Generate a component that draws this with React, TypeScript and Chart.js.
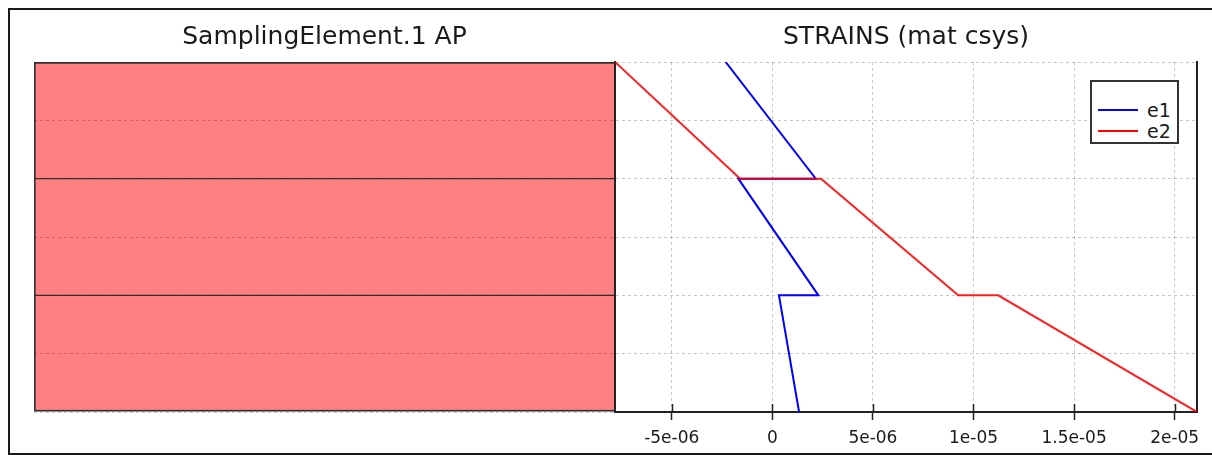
import React, { useEffect, useRef } from 'react';
import { Chart, registerables } from 'chart.js';

Chart.register(...registerables);

// ---- data ----
const depth = [3, 2, 2, 1, 1, 0];
const e1 = [-2.32e-6, 2.16e-6, -1.69e-6, 2.29e-6, 0.33e-6, 1.33e-6];
const e2 = [-7.82e-6, -1.6e-6, 2.42e-6, 9.24e-6, 1.123e-5, 2.111e-5];
const seriesNames = ['e1', 'e2'];
const seriesColors = ['#0000ff', '#ff0000'];
const seriesLineColors = ['rgba(0,0,255,1)', 'rgba(255,0,0,0.88)'];
const tickValues = [-5e-6, 0, 5e-6, 1e-5, 1.5e-5, 2e-5];
const tickLabels = ['-5e-06', '0', '5e-06', '1e-05', '1.5e-05', '2e-05'];
const xMin = -7.82e-6;
const xMax = 2.111e-5;
const layerNames = ['Layer 1', 'Layer 2', 'Layer 3'];
const layerRanges: [number, number][] = [[2, 3], [1, 2], [0, 1]];
const depthMin = 0;
const depthMax = 3;
const depthStep = 0.5;
const leftTitle = 'SamplingElement.1 AP';
const rightTitle = 'STRAINS (mat csys)';

const W = 1212;
const H = 455;
const FONT = 'DejaVu Sans';
const PLOT_TOP = 62;
const PLOT_BOTTOM = 412;
const LEFT_X0 = 34;
const SPLIT_X = 615;
const RIGHT_X1 = 1197;
const GRID = 'rgba(0,0,0,0.22)';
const DASH = [3, 3];
const TEXT = '#1a1a1a';

const TITLE_SIZE = 25;
const PAD_TOP = 10;
const TITLE_LH = TITLE_SIZE * 1.2;
const TITLE_CENTER = 37.5;
const TITLE_PAD_TOP = TITLE_CENTER - PAD_TOP - TITLE_LH / 2;
const TITLE_PAD_BOTTOM = PLOT_TOP - PAD_TOP - TITLE_PAD_TOP - TITLE_LH;

const titleOpts = (text: string) => ({
  display: true,
  text,
  color: TEXT,
  font: { family: FONT, size: TITLE_SIZE, weight: 'normal' as const },
  padding: { top: TITLE_PAD_TOP, bottom: TITLE_PAD_BOTTOM },
});

const innerTicks = {
  id: 'innerTicks',
  afterDraw(chart: any) {
    const xs = chart.scales.x;
    const { ctx, chartArea } = chart;
    ctx.save();
    ctx.strokeStyle = '#222';
    ctx.lineWidth = 1.5;
    xs.ticks.forEach((t: any) => {
      const px = Math.round(xs.getPixelForValue(t.value)) + 0.5;
      ctx.beginPath();
      ctx.moveTo(px, chartArea.bottom - 8);
      ctx.lineTo(px, chartArea.bottom);
      ctx.stroke();
    });
    ctx.restore();
  },
};

export default function App() {
  const leftRef = useRef<HTMLCanvasElement>(null);
  const rightRef = useRef<HTMLCanvasElement>(null);

  useEffect(() => {
    Chart.defaults.font.family = FONT;
    const nLayers = layerRanges.length;
    const left = new Chart(leftRef.current!, {
      type: 'bar',
      data: {
        labels: ['AP'],
        datasets: layerRanges.map((r, i) => ({
          label: layerNames[i],
          data: [r],
          backgroundColor: '#ff8080',
          borderColor: '#333',
          borderWidth: { top: i === 0 ? 2 : 1, bottom: i === nLayers - 1 ? 2 : 1, left: 2, right: 1 },
          borderSkipped: false,
          barPercentage: 1,
          categoryPercentage: 1,
        })) as any,
      },
      options: {
        responsive: false,
        animation: false,
        layout: { padding: { left: LEFT_X0, right: W - SPLIT_X, top: PAD_TOP, bottom: H - PLOT_BOTTOM } },
        plugins: { legend: { display: false }, tooltip: { enabled: false }, title: titleOpts(leftTitle) as any },
        scales: {
          x: { display: false, stacked: true },
          y: {
            type: 'linear',
            min: depthMin,
            max: depthMax,
            stacked: false,
            ticks: { display: false, stepSize: depthStep },
            grid: { color: GRID, drawTicks: false, z: 1 },
            border: { display: false, dash: DASH },
            afterFit: (s: any) => { s.width = 0; },
          },
        },
      } as any,
    });

    const right = new Chart(rightRef.current!, {
      type: 'line',
      data: {
        datasets: [e1, e2].map((vals, i) => ({
          label: seriesNames[i],
          data: vals.map((v, k) => ({ x: v, y: depth[k] })),
          borderColor: seriesLineColors[i],
          backgroundColor: seriesColors[i],
          borderWidth: 2,
          pointRadius: 0,
          tension: 0,
          fill: false,
          order: i === 0 ? 1 : 0,
        })),
      },
      options: {
        responsive: false,
        animation: false,
        layout: { padding: { left: SPLIT_X, right: W - RIGHT_X1, top: PAD_TOP, bottom: 0 } },
        plugins: { legend: { display: false }, tooltip: { enabled: false }, title: titleOpts(rightTitle) as any },
        scales: {
          x: {
            type: 'linear',
            min: xMin,
            max: xMax,
            afterBuildTicks: (s: any) => { s.ticks = tickValues.map((v) => ({ value: v })); },
            afterFit: (s: any) => { s.height = H - PLOT_BOTTOM; },
            ticks: {
              autoSkip: false,
              maxRotation: 0,
              includeBounds: false,
              padding: 8,
              color: TEXT,
              font: { family: FONT, size: 17 },
              callback: (value: any) => {
                const i = tickValues.findIndex((t) => Math.abs(t - Number(value)) < 1e-12);
                return i >= 0 ? tickLabels[i] : '';
              },
            },
            grid: { color: GRID, tickColor: '#222', tickWidth: 1.5, tickLength: 8, tickBorderDash: [] },
            border: { display: true, color: '#222', width: 2, dash: DASH },
          },
          y: {
            type: 'linear',
            min: depthMin,
            max: depthMax,
            ticks: { display: false, stepSize: depthStep },
            grid: { color: GRID, drawTicks: false },
            border: { display: true, color: '#222', width: 2, dash: DASH },
            afterFit: (s: any) => { s.width = 0; },
          },
          y2: {
            type: 'linear',
            position: 'right',
            min: depthMin,
            max: depthMax,
            ticks: { display: false },
            grid: { display: false, drawTicks: false },
            border: { display: true, color: '#222', width: 2 },
            afterFit: (s: any) => { s.width = 0; },
          },
        },
      } as any,
      plugins: [innerTicks],
    });

    return () => {
      left.destroy();
      right.destroy();
    };
  }, []);

  const legendRows = [109.5, 130.5];

  return (
    <div style={{ position: 'fixed', left: 0, top: 0, width: W, height: H, overflow: 'hidden', background: '#fff' }}>
      <div
        style={{
          position: 'absolute', left: 8, top: 8, width: 1400, height: 447,
          boxSizing: 'border-box', border: '2px solid #1a1a1a', borderRight: 'none',
        }}
      />
      <canvas ref={leftRef} width={W} height={H} style={{ position: 'absolute', left: 0, top: 0 }} />
      <canvas ref={rightRef} width={W} height={H} style={{ position: 'absolute', left: 0, top: 0 }} />
      <div
        style={{
          position: 'absolute', left: 1090, top: 80, width: 89, height: 64,
          boxSizing: 'border-box', border: '2px solid #333', background: '#fff',
        }}
      />
      {seriesNames.map((name, i) => (
        <React.Fragment key={name}>
          <div
            style={{
              position: 'absolute', left: 1098, top: legendRows[i] - 1, width: 40, height: 2,
              background: seriesColors[i],
            }}
          />
          <div
            style={{
              position: 'absolute', left: 1147, top: legendRows[i] - 12, height: 24, lineHeight: '24px',
              fontFamily: FONT, fontSize: 19, color: TEXT,
            }}
          >
            {name}
          </div>
        </React.Fragment>
      ))}
    </div>
  );
}
